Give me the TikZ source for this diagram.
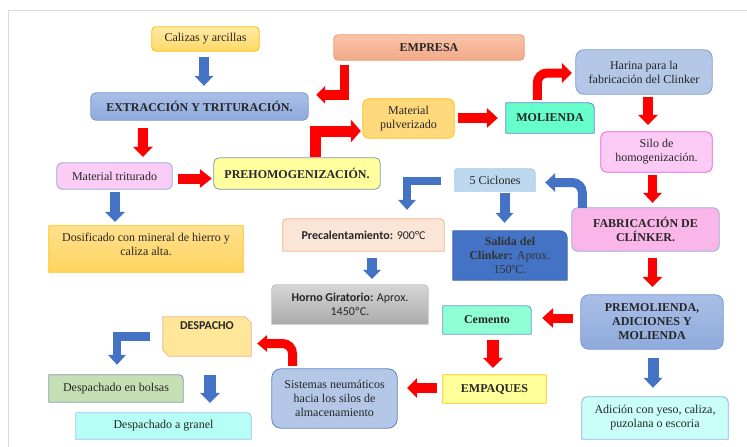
\documentclass[tikz,border=0pt]{standalone}
\usepackage{fontspec}
\setmainfont{Liberation Serif}
\setsansfont{Carlito}
\usetikzlibrary{arrows.meta,calc}
\pgfdeclarelayer{bg}
\pgfsetlayers{bg,main}
\definecolor{ared}{HTML}{FF0000}
\definecolor{ablue}{HTML}{4472C4}
\definecolor{txtc}{HTML}{262626}
\definecolor{frame}{HTML}{D9D9D9}
\newcommand\fs{\fontsize{12}{14}\selectfont}
% #1 node, #2 style, #3 TL, #4 TR, #5 BR, #6 BL radii
\newcommand\mybox[6]{%
  \path[#2] ([yshift=-#3]#1.north west) arc[start angle=180,end angle=90,radius=#3]
    -- ([xshift=-#4]#1.north east) arc[start angle=90,end angle=0,radius=#4]
    -- ([yshift=#5]#1.south east) arc[start angle=0,end angle=-90,radius=#5]
    -- ([xshift=#6]#1.south west) arc[start angle=270,end angle=180,radius=#6]
    -- cycle;}
\tikzset{
  box/.style={inner sep=0pt, align=center, text=txtc, font=\fs},
  boxb/.style={box, font=\fs\bfseries},
  boxs/.style={box, font=\fs\sffamily},
  edge/.style={line width=0.8pt},
  blk/.style n args={3}{line width=#1, -{Triangle[length=#3, width=#2, line width=0pt]}},
  rar/.style={draw=ared},
  bar/.style={draw=ablue}
}
\begin{document}
\begin{tikzpicture}[x=1pt,y=-1pt]
\useasboundingbox (0,0) rectangle (747,447);
\draw[frame, line width=1pt] (8,447) -- (8,10) -- (747,10);

% nodes
\node[box, minimum width=107pt, minimum height=24pt] (calizas) at (205.5,39) {Calizas y arcillas};
\node[boxb, minimum width=190pt, minimum height=25pt] (empresa) at (429,47.5) {EMPRESA};
\node[boxb, minimum width=217pt, minimum height=27pt] (extr) at (199.5,106.5) {EXTRACCIÓN Y TRITURACIÓN.};
\node[box, minimum width=91pt, minimum height=39pt] (pulv) at (408.5,118.5) {Material\\pulverizado};
\node[boxb, minimum width=88pt, minimum height=30pt] (molienda) at (550,118) {MOLIENDA};
\node[box, minimum width=136pt, minimum height=44pt] (harina) at (644,72) {Harina para la\\fabricación del Clinker};
\node[box, minimum width=111pt, minimum height=40pt] (silo) at (656.5,152) {Silo de\\homogenización.};
\node[box, minimum width=115pt, minimum height=26pt] (triturado) at (114.5,176) {Material triturado};
\node[boxb, minimum width=166pt, minimum height=31pt] (prehomo) at (297,173.5) {PREHOMOGENIZACIÓN.};
\node[box, minimum width=194pt, minimum height=46pt] (dosif) at (146,249) {};
\node[box] (dosifT) at (146,244.5) {Dosificado con mineral de hierro y\\caliza alta.};
\node[box, minimum width=80pt, minimum height=22pt] (ciclones) at (495,180) {5 Ciclones};
\node[boxs, minimum width=161pt, minimum height=32pt] (precal) at (363.5,235) {\textbf{Precalentamiento:} 900°C};
\node[box, minimum width=114pt, minimum height=49pt, text=black!80] (salida) at (510,255.5) {\textbf{Salida del}\\\textbf{Clinker:} Aprox.\\150ºC.};
\node[boxb, minimum width=147pt, minimum height=43pt] (fabric) at (645.5,229.5) {FABRICACIÓN DE\\CLÍNKER.};
\node[boxs, minimum width=156pt, minimum height=39pt] (horno) at (350,304.5) {\textbf{Horno Giratorio:} Aprox.\\1450ºC.};
\node[boxb, minimum width=142pt, minimum height=54pt] (premol) at (652,322) {PREMOLIENDA,\\ADICIONES Y\\MOLIENDA};
\node[boxb, minimum width=88pt, minimum height=28pt] (cemento) at (487,320) {Cemento};
\node[boxb, minimum width=103pt, minimum height=28pt] (empaques) at (494.5,389) {EMPAQUES};
\node[box, minimum width=125pt, minimum height=59pt] (sistemas) at (334.5,398.5) {Sistemas neumáticos\\hacia los silos de\\almacenamiento};
\node[box, minimum width=146pt, minimum height=42pt] (adicion) at (655,418) {Adición con yeso, caliza,\\puzolana o escoria};
\node[box, minimum width=88pt, minimum height=39pt] (despacho) at (207,336.5) {};
\node[boxs, font=\fs\sffamily\bfseries] (despachoT) at (207,326) {DESPACHO};
\node[box, minimum width=134pt, minimum height=27pt] (bolsas) at (116,388.5) {Despachado en bolsas};
\node[box, minimum width=175pt, minimum height=26pt] (granel) at (163.5,426) {Despachado a granel};

% box shapes
\begin{pgfonlayer}{bg}
\mybox{calizas}{edge, top color={rgb,255:red,255;green,234;blue,166}, bottom color={rgb,255:red,255;green,217;blue,102}, draw={rgb,255:red,255;green,192;blue,0}}{4pt}{4pt}{4pt}{4pt}
\mybox{empresa}{edge, top color={rgb,255:red,248;green,195;blue,168}, bottom color={rgb,255:red,243;green,169;blue,138}, draw={rgb,255:red,240;green,154;blue,110}}{4pt}{4pt}{4pt}{4pt}
\mybox{extr}{edge, top color={rgb,255:red,170;green,191;blue,232}, bottom color={rgb,255:red,142;green,170;blue,219}, draw={rgb,255:red,115;green,148;blue,210}}{5pt}{5pt}{5pt}{5pt}
\mybox{pulv}{edge, fill={rgb,255:red,255;green,217;blue,124}, draw={rgb,255:red,255;green,192;blue,0}}{6pt}{6pt}{6pt}{6pt}
\mybox{molienda}{edge, fill={rgb,255:red,102;green,255;blue,204}, draw={rgb,255:red,91;green,134;blue,204}}{0.01pt}{5pt}{0.01pt}{0.01pt}
\mybox{harina}{edge, fill={rgb,255:red,180;green,199;blue,231}, draw={rgb,255:red,122;green,155;blue,214}}{8pt}{8pt}{8pt}{8pt}
\mybox{silo}{edge, fill={rgb,255:red,251;green,203;blue,246}, draw={rgb,255:red,230;green,90;blue,230}}{6pt}{6pt}{6pt}{6pt}
\mybox{triturado}{edge, fill={rgb,255:red,250;green,204;blue,246}, draw={rgb,255:red,143;green,170;blue,220}}{5pt}{5pt}{5pt}{5pt}
\mybox{prehomo}{edge, fill={rgb,255:red,255;green,255;blue,158}, draw={rgb,255:red,132;green,151;blue,176}}{5pt}{5pt}{5pt}{5pt}
\mybox{dosif}{edge, top color={rgb,255:red,255;green,224;blue,142}, bottom color={rgb,255:red,255;green,211;blue,94}, draw={rgb,255:red,255;green,192;blue,0}}{0.01pt}{0.01pt}{0.01pt}{0.01pt}
\mybox{ciclones}{edge, fill={rgb,255:red,189;green,215;blue,238}, draw={rgb,255:red,168;green,200;blue,232}}{2pt}{4pt}{0.01pt}{0.01pt}
\mybox{precal}{edge, fill={rgb,255:red,251;green,229;blue,214}, draw={rgb,255:red,244;green,177;blue,131}}{4pt}{4pt}{0.01pt}{0.01pt}
\mybox{salida}{edge, fill={rgb,255:red,68;green,114;blue,196}, draw={rgb,255:red,58;green,100;blue,176}}{0.01pt}{7pt}{0.01pt}{0.01pt}
\mybox{fabric}{edge, fill={rgb,255:red,250;green,182;blue,232}, draw={rgb,255:red,143;green,170;blue,220}}{6pt}{6pt}{6pt}{6pt}
\mybox{horno}{edge, top color={rgb,255:red,214;green,214;blue,214}, bottom color={rgb,255:red,171;green,171;blue,171}, draw={rgb,255:red,191;green,191;blue,191}}{4pt}{4pt}{0.01pt}{0.01pt}
\mybox{premol}{edge, top color={rgb,255:red,170;green,191;blue,232}, bottom color={rgb,255:red,142;green,170;blue,219}, draw={rgb,255:red,115;green,148;blue,210}}{8pt}{8pt}{8pt}{8pt}
\mybox{cemento}{edge, fill={rgb,255:red,143;green,255;blue,212}, draw={rgb,255:red,91;green,155;blue,213}}{0.01pt}{4pt}{0.01pt}{0.01pt}
\mybox{empaques}{edge, fill={rgb,255:red,255;green,255;blue,153}, draw={rgb,255:red,255;green,192;blue,0}}{0.01pt}{0.01pt}{0.01pt}{0.01pt}
\mybox{sistemas}{edge, fill={rgb,255:red,180;green,199;blue,231}, draw={rgb,255:red,91;green,130;blue,201}}{9pt}{9pt}{9pt}{9pt}
\mybox{adicion}{edge, fill={rgb,255:red,201;green,255;blue,247}, draw={rgb,255:red,141;green,180;blue,226}}{5pt}{5pt}{0.01pt}{0.01pt}
\path[edge, fill={rgb,255:red,255;green,230;blue,153}, draw={rgb,255:red,244;green,177;blue,131}]
  (despacho.north west) -- ([xshift=-6pt]despacho.north east) -- ([yshift=-6pt]despacho.north east)
  -- (despacho.south east) -- ([xshift=6pt]despacho.south west) -- ([yshift=6pt]despacho.south west) -- cycle;
\mybox{bolsas}{edge, fill={rgb,255:red,197;green,224;blue,180}, draw={rgb,255:red,132;green,151;blue,176}}{0.01pt}{4pt}{0.01pt}{0.01pt}
\mybox{granel}{edge, fill={rgb,255:red,181;green,255;blue,246}, draw={rgb,255:red,157;green,195;blue,230}}{0.01pt}{4pt}{0.01pt}{0.01pt}
\end{pgfonlayer}

% arrows
\draw[bar, blk={10pt}{19pt}{10pt}] ($(calizas.south)+(-1.5,6)$) -- ($(extr.north)+(4.5,-7)$);
\draw[rar, blk={9.5pt}{18pt}{9pt}] ($(empresa.south west)+(10.5,5)$) |- ($(extr.north east)+(8,2)$);
\draw[rar, blk={10pt}{20pt}{10pt}] ($(extr.south west)+(52,8)$) -- ($(triturado.north)+(28.5,-6)$);
\draw[rar, blk={10pt}{19pt}{12pt}] ($(triturado.east)+(6,2.5)$) -- ($(prehomo.west)+(-2,5)$);
\draw[bar, blk={10pt}{20pt}{10pt}] ($(triturado.south)+(0.5,3)$) -- ($(dosif.north)+(-31,-4)$);
\draw[rar, blk={11pt}{23pt}{10pt}] ($(prehomo.north east)+(-64.5,-1)$) |- ($(pulv.west)+(-2,12.5)$);
\draw[rar, blk={10pt}{20pt}{11pt}] ($(pulv.east)+(4,-0.5)$) -- ($(molienda.west)+(-8,0)$);
\draw[rar, blk={9pt}{20pt}{10pt}, rounded corners=10pt] ($(molienda.north west)+(31.5,-3)$) |- ($(harina.west)+(-4,1)$);
\draw[rar, blk={10pt}{20pt}{10pt}] ($(harina.south)+(4,3)$) -- ($(silo.north)+(-8.5,-7)$);
\draw[rar, blk={9pt}{19pt}{10pt}] ($(silo.south)+(-4,3)$) -- ($(fabric.north)+(7,-5)$);
\draw[bar, blk={9pt}{19pt}{10pt}, rounded corners=10pt] ($(fabric.north west)+(10.5,0)$) |- ($(ciclones.east)+(10,2.5)$);
\draw[bar, blk={8pt}{18pt}{10pt}] ($(ciclones.west)+(-14,1)$) -| ($(precal.north)+(43.5,-9)$);
\draw[bar, blk={10pt}{18pt}{10pt}] ($(ciclones.south)+(9.5,2)$) -- ($(salida.north)+(-5.5,-8)$);
\draw[bar, blk={10pt}{18pt}{9pt}] ($(precal.south)+(8.5,7)$) -- ($(horno.north)+(22,-6)$);
\draw[rar, blk={9pt}{20pt}{10pt}] ($(fabric.south)+(7,7)$) -- ($(premol.north)+(0.5,-8)$);
\draw[rar, blk={9pt}{20pt}{11pt}] ($(premol.west)+(-8,-4)$) -- ($(cemento.east)+(11,-2)$);
\draw[rar, blk={12pt}{20pt}{10pt}] ($(cemento.south)+(6,6)$) -- ($(empaques.north)+(-1.5,-7)$);
\draw[bar, blk={11pt}{19pt}{10pt}] ($(premol.south)+(1,9)$) -- ($(adicion.north)+(-2,-9)$);
\draw[rar, blk={10pt}{20pt}{10pt}] ($(empaques.west)+(-6,-1)$) -- ($(sistemas.east)+(10,-10.5)$);
\draw[rar, blk={9pt}{17pt}{10pt}, rounded corners=10pt] ($(sistemas.north)+(-42,-3)$) |- ($(despacho.east)+(6,7)$);
\draw[bar, blk={8.5pt}{18pt}{10pt}] ($(despacho.west)+(-13,0)$) -| ($(bolsas.north)+(1,-10)$);
\draw[bar, blk={12pt}{20pt}{10pt}] ($(despacho.south)+(3,19)$) -- ($(granel.north)+(46.5,-10)$);
\end{tikzpicture}
\end{document}
